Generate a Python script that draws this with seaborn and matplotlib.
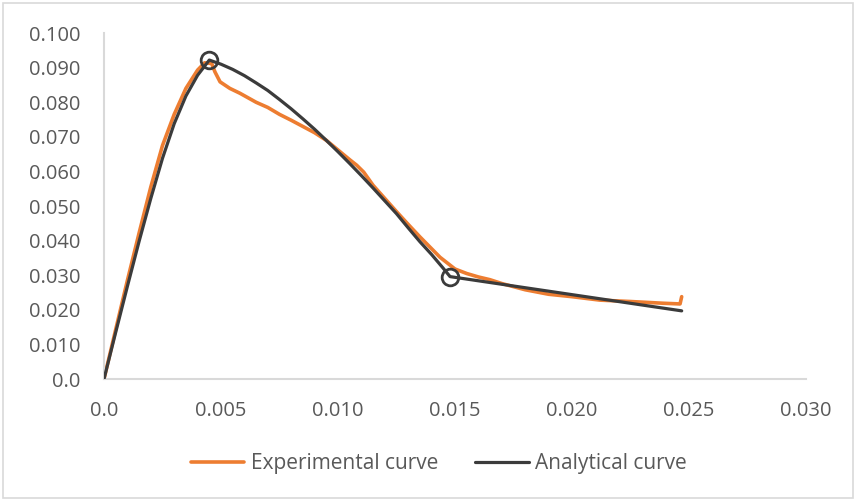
import matplotlib
matplotlib.use("Agg")
import matplotlib.pyplot as plt
import matplotlib.ticker as mticker
import seaborn as sns
import pandas as pd

# Experimental load-displacement record
exp_x = [0.0, 0.0005, 0.0010, 0.0015, 0.0020, 0.0025, 0.0030, 0.0035, 0.0040,
         0.0043, 0.0046, 0.00474, 0.00496, 0.00538, 0.00581, 0.0065, 0.0070,
         0.0075, 0.0080, 0.0085, 0.0090, 0.0095, 0.0100, 0.0105, 0.0108,
         0.0111, 0.0115, 0.0120, 0.0125, 0.0130, 0.0135, 0.01436, 0.0150,
         0.0155, 0.0160, 0.0165, 0.0170, 0.0180, 0.0190, 0.0200, 0.0212,
         0.0225, 0.0239, 0.02462, 0.02469]
exp_y = [0.0, 0.0143, 0.0285, 0.0422, 0.0555, 0.0675, 0.0765, 0.0840, 0.0893,
         0.0914, 0.0912, 0.0888, 0.0859, 0.0840, 0.0826, 0.0800, 0.0785,
         0.0765, 0.0748, 0.0730, 0.0712, 0.0690, 0.0662, 0.0634, 0.0618,
         0.0598, 0.0560, 0.0522, 0.0484, 0.0447, 0.0411, 0.0352, 0.0318,
         0.0305, 0.0295, 0.0287, 0.0276, 0.0258, 0.0245, 0.0238, 0.0228,
         0.0224, 0.0219, 0.0217, 0.0238]

# Analytical model (pre-peak, softening branch, residual branch)
ana_x = [0.0, 0.0005, 0.0010, 0.0015, 0.0020, 0.0025, 0.0030, 0.0035, 0.0040,
         0.0045, 0.0050, 0.0055, 0.0060, 0.0065, 0.0070, 0.0075, 0.0080,
         0.0085, 0.0090, 0.0095, 0.0100, 0.0105, 0.0110, 0.0115, 0.0120,
         0.0125, 0.0130, 0.0135, 0.0140, 0.0145, 0.01479, 0.02469]
ana_y = [0.0, 0.0135, 0.0268, 0.0398, 0.0522, 0.0638, 0.0738, 0.0818, 0.0878,
         0.0922, 0.0910, 0.0895, 0.0877, 0.0856, 0.0834, 0.0808, 0.0781,
         0.0752, 0.0722, 0.0690, 0.0657, 0.0623, 0.0588, 0.0552, 0.0515,
         0.0478, 0.0437, 0.0397, 0.0360, 0.0320, 0.0296, 0.0197]
# indices of the characteristic points (peak and end of softening)
ana_marks = [9, 30]

x_ticks = [0.0, 0.005, 0.010, 0.015, 0.020, 0.025, 0.030]
y_ticks = [0.0, 0.010, 0.020, 0.030, 0.040, 0.050, 0.060, 0.070, 0.080, 0.090, 0.100]

sns.set_theme(style="white")
plt.rcParams["font.family"] = ["Open Sans", "DejaVu Sans"]

text_color = "#595959"
axis_color = "#D9D9D9"
orange = "#ED7D31"
dark = "#3B3B3B"

fig = plt.figure(figsize=(8.56, 5.01), dpi=100)
ax = fig.add_axes([0.1215, 0.2435, 0.82, 0.6905])

exp_df = pd.DataFrame({"x": exp_x, "y": exp_y})
ana_df = pd.DataFrame({"x": ana_x, "y": ana_y})

sns.lineplot(data=exp_df, x="x", y="y", sort=False, estimator=None, ax=ax,
             color=orange, linewidth=2.6, label="Experimental curve", zorder=2)
sns.lineplot(data=ana_df, x="x", y="y", sort=False, estimator=None, ax=ax,
             color=dark, linewidth=2.3, label="Analytical curve", zorder=3)
ax.plot([ana_x[i] for i in ana_marks], [ana_y[i] for i in ana_marks],
        linestyle="none", marker="o", markersize=12, markerfacecolor="none",
        markeredgecolor=dark, markeredgewidth=2.0, zorder=4)

ax.set_xlim(0, 0.030)
ax.set_ylim(0, 0.100)
ax.set_xticks(x_ticks)
ax.set_yticks(y_ticks)

def fmt(v, _pos):
    return "0.0" if abs(v) < 1e-12 else f"{v:.3f}"

ax.xaxis.set_major_formatter(mticker.FuncFormatter(fmt))
ax.yaxis.set_major_formatter(mticker.FuncFormatter(fmt))
ax.tick_params(axis="both", length=0, labelsize=14.5, labelcolor=text_color)
ax.tick_params(axis="x", pad=16)
ax.tick_params(axis="y", pad=17)
ax.set_xlabel("")
ax.set_ylabel("")

for side in ("top", "right"):
    ax.spines[side].set_visible(False)
for side in ("left", "bottom"):
    ax.spines[side].set_visible(True)
    ax.spines[side].set_color(axis_color)
    ax.spines[side].set_linewidth(1.5)

leg = ax.legend(loc="center", bbox_to_anchor=(0.477, -0.245), ncol=2, frameon=False,
                fontsize=15, handlelength=2.55, handletextpad=0.3, columnspacing=1.8)
for t in leg.get_texts():
    t.set_color(text_color)

# chart border
fig.patches.append(plt.Rectangle((0.004, 0.006), 0.992, 0.988, transform=fig.transFigure,
                                 fill=False, edgecolor=axis_color, linewidth=1.2))

fig.savefig("out.png", dpi=100, facecolor="white")
